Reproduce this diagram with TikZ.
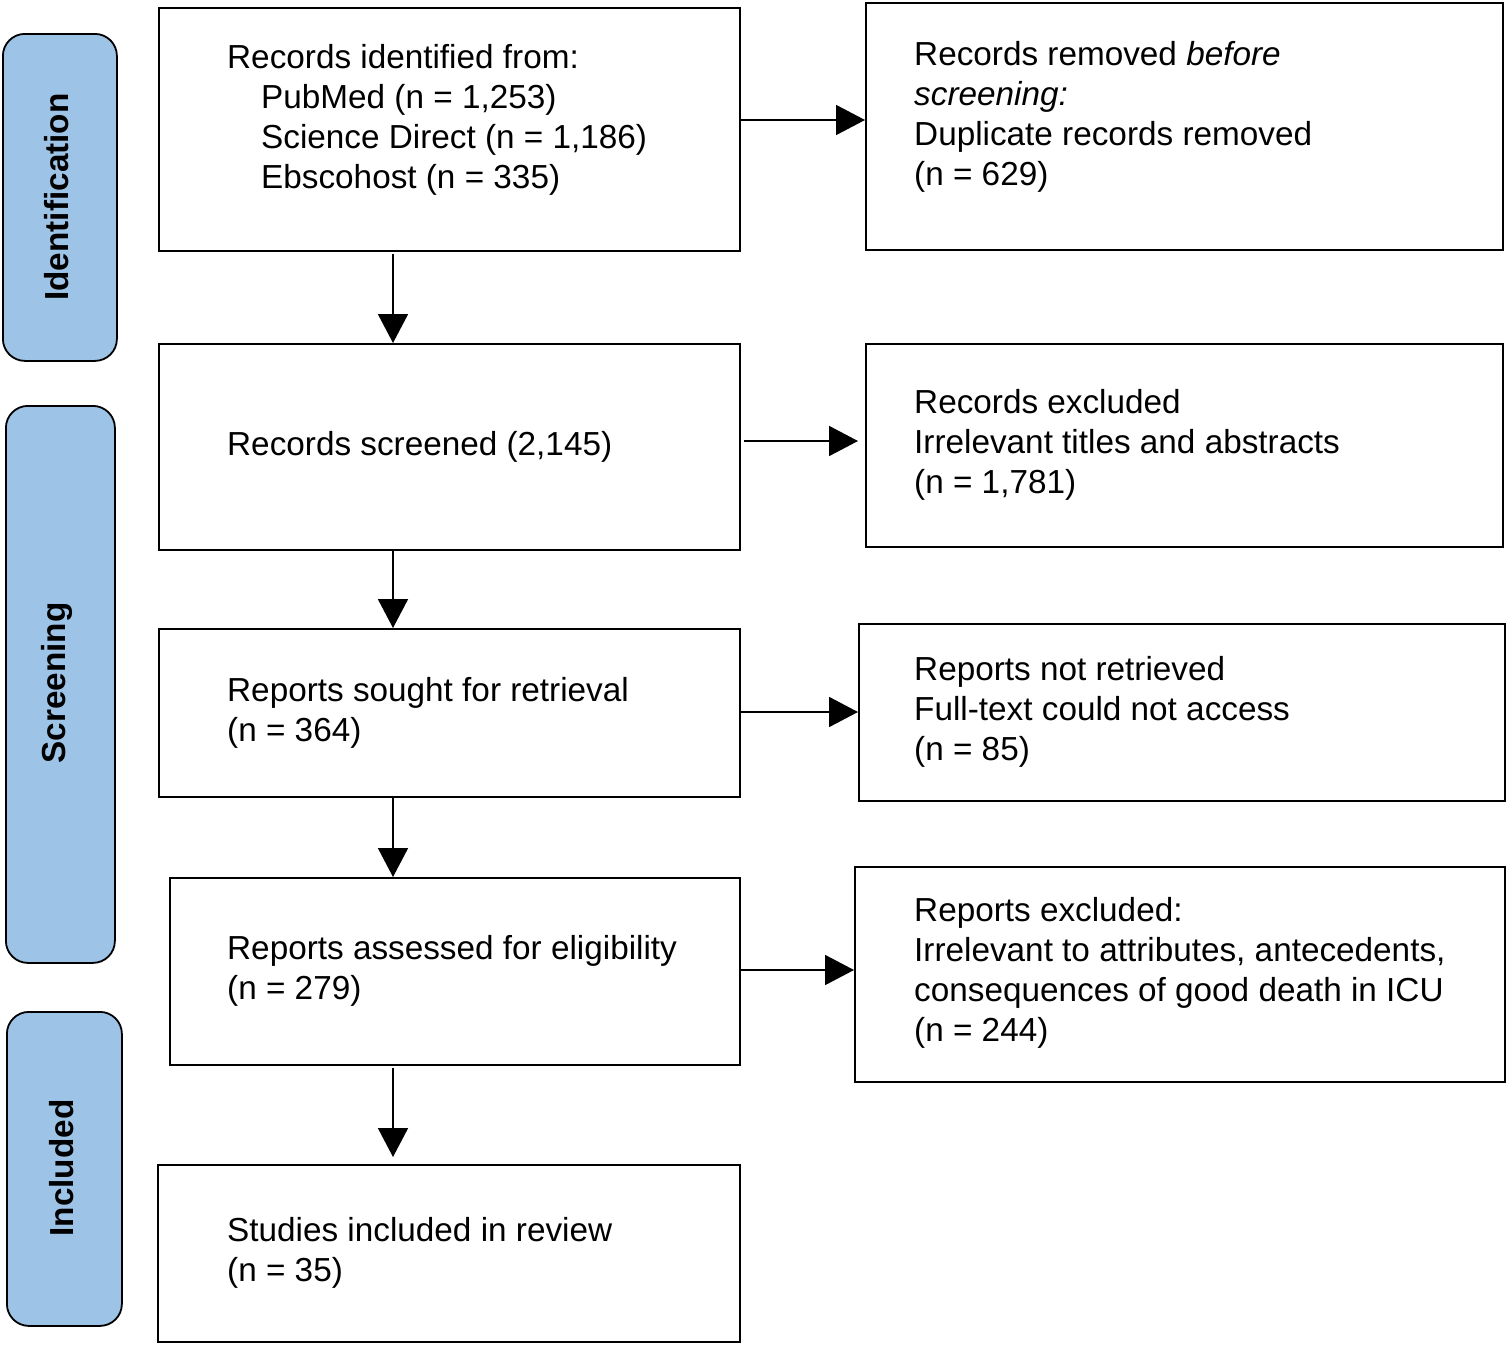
\documentclass[tikz,border=0pt]{standalone}
\usepackage{fontspec}
\setmainfont{Liberation Sans}
\usetikzlibrary{arrows.meta}
\definecolor{sideblue}{RGB}{157,195,230}
\begin{document}
\begin{tikzpicture}[x=1pt,y=-1pt,
  box/.style={draw, line width=1.8pt, inner sep=0pt, anchor=north west},
  txt/.style={anchor=west, align=left, inner sep=0pt, font=\fontsize{33.3}{40}\selectfont},
  side/.style={draw, line width=1.8pt, rounded corners=22pt, fill=sideblue, inner sep=0pt, anchor=north west},
  sidelbl/.style={rotate=90, inner sep=0pt, font=\fontsize{33.3}{40}\selectfont\bfseries},
  arr/.style={line width=1.8pt, -{Triangle[length=29pt,width=30pt]}}
]
\useasboundingbox (0,0) rectangle (1506,1368);

% side bars
\node[side, minimum width=114pt, minimum height=327pt] (s1) at (2,33) {};
\node[side, minimum width=109pt, minimum height=557pt] (s2) at (5,405) {};
\node[side, minimum width=115pt, minimum height=314pt] (s3) at (6,1011) {};
\node[sidelbl] (l1) at (57,197) {Identification};
\node[sidelbl] (l2) at (57,683) {Screening};
\node[sidelbl] (l3) at (62,1168) {Included};

% main boxes
\node[box, minimum width=581pt, minimum height=243pt] (b1) at (158,7) {};
\node[box, minimum width=581pt, minimum height=206pt] (b2) at (158,343) {};
\node[box, minimum width=581pt, minimum height=168pt] (b3) at (158,628) {};
\node[box, minimum width=570pt, minimum height=187pt] (b4) at (169,877) {};
\node[box, minimum width=582pt, minimum height=177pt] (b5) at (157,1164) {};

% right boxes
\node[box, minimum width=637pt, minimum height=247pt] (r1) at (865,2) {};
\node[box, minimum width=637pt, minimum height=203pt] (r2) at (865,343) {};
\node[box, minimum width=646pt, minimum height=177pt] (r3) at (858,623) {};
\node[box, minimum width=650pt, minimum height=215pt] (r4) at (854,866) {};

% texts
\node[txt] (t1) at (227,120) {Records identified from:\\\hspace*{34pt}PubMed (n = 1,253)\\\hspace*{34pt}Science Direct (n = 1,186)\\\hspace*{34pt}Ebscohost (n = 335)};
\node[txt] (t2) at (227,447) {Records screened (2,145)};
\node[txt] (t3) at (227,713) {Reports sought for retrieval\\(n = 364)};
\node[txt] (t4) at (227,971) {Reports assessed for eligibility\\(n = 279)};
\node[txt] (t5) at (227,1253) {Studies included in review\\(n = 35)};

\node[txt] (u1) at (914,117) {Records removed \textit{before}\\\textit{screening:}\\Duplicate records removed\\(n = 629)};
\node[txt] (u2) at (914,445) {Records excluded\\Irrelevant titles and abstracts\\(n = 1,781)};
\node[txt] (u3) at (914,712) {Reports not retrieved\\Full-text could not access\\(n = 85)};
\node[txt] (u4) at (914,973) {Reports excluded:\\Irrelevant to attributes, antecedents,\\consequences of good death in ICU\\(n = 244)};

% arrows
\draw[arr] (b1.east |- 0,120) -- (r1.west |- 0,120);
\draw[arr] ([yshift=-2pt]b1.south -| 393,0) -- (b2.north -| 393,0);
\draw[arr, shorten >=7pt] ([xshift=3pt]b2.east |- 0,441) -- (r2.west |- 0,441);
\draw[arr] (b2.south -| 393,0) -- (b3.north -| 393,0);
\draw[arr] (b3.east |- 0,712) -- (r3.west |- 0,712);
\draw[arr] (b3.south -| 393,0) -- (b4.north -| 393,0);
\draw[arr] (b4.east |- 0,970) -- (r4.west |- 0,970);
\draw[arr, shorten >=7pt] ([yshift=-2pt]b4.south -| 393,0) -- (b5.north -| 393,0);
\end{tikzpicture}
\end{document}
